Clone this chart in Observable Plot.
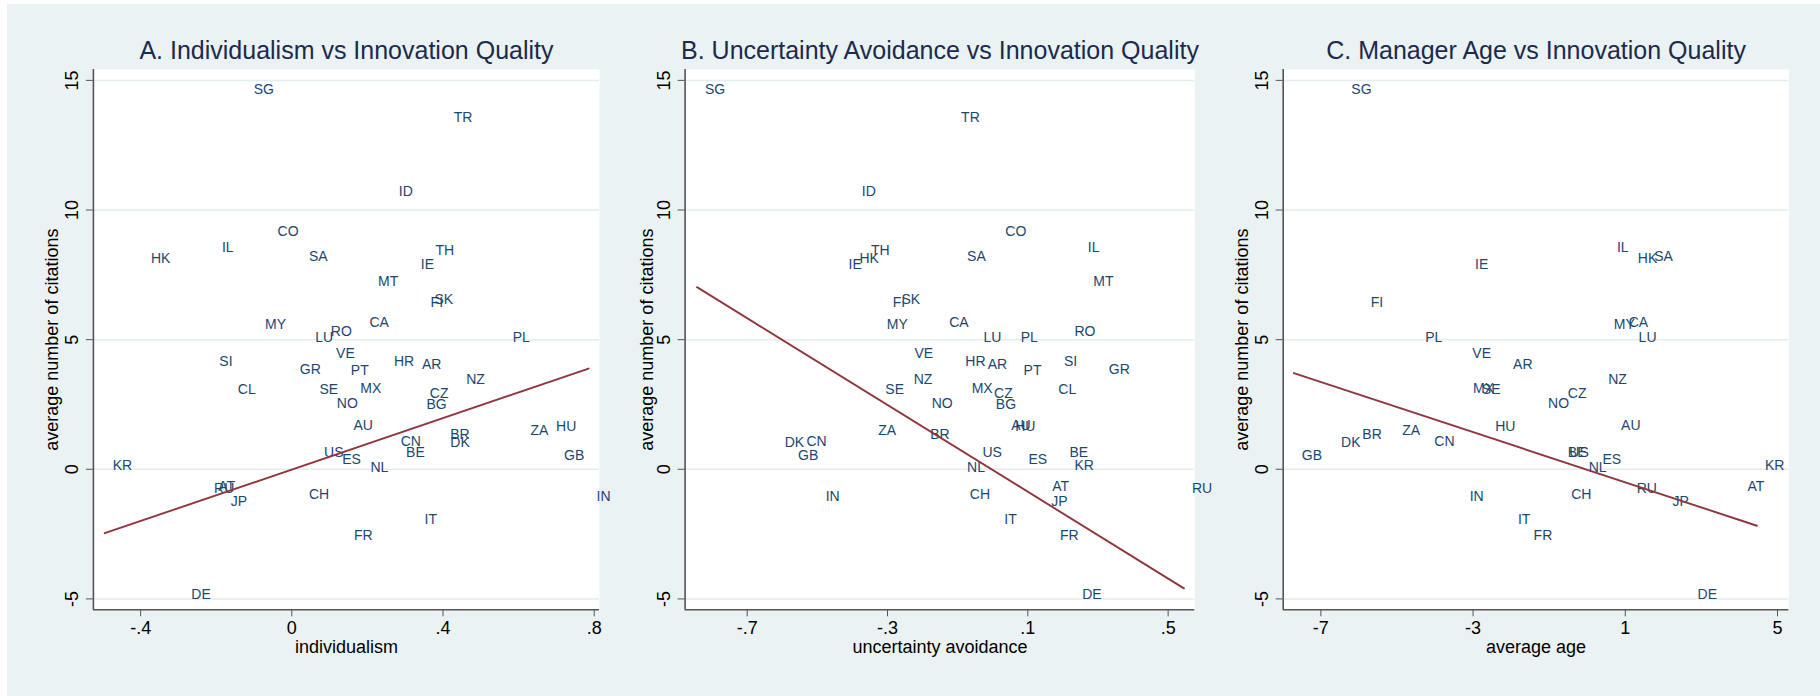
<!DOCTYPE html>
<html>
<head>
<meta charset="utf-8">
<script src="https://cdn.jsdelivr.net/npm/d3@7"></script>
<script src="https://cdn.jsdelivr.net/npm/@observablehq/plot@0.6"></script>
<style>
  html, body { margin: 0; padding: 0; background: #ffffff; }
  #root { position: relative; width: 1820px; height: 696px; overflow: hidden; }
  #bg { position: absolute; left: 7px; top: 4px; right: 0; bottom: 0; background: #eaf2f3; }
  .panel { position: absolute; top: 0; }
  .panel svg { overflow: visible; }
</style>
</head>
<body>
<div id="root"><div id="bg"></div></div>
<script>
// ---- data ----
const countries = ["SG","TR","ID","CO","IL","HK","SA","TH","IE","MT","SK","FI","MY","CA","RO","LU","PL","VE","SI","HR","AR","GR","PT","NZ","CL","SE","MX","CZ","NO","BG","AU","ZA","HU","BR","DK","CN","BE","GB","US","ES","NL","KR","AT","RU","JP","CH","IN","IT","FR","DE"];
const citations = [14.65,13.57,10.72,9.18,8.55,8.12,8.20,8.42,7.89,7.24,6.55,6.45,5.59,5.66,5.32,5.07,5.07,4.46,4.16,4.16,4.04,3.85,3.81,3.45,3.07,3.07,3.10,2.93,2.54,2.50,1.67,1.49,1.65,1.34,1.02,1.08,0.63,0.53,0.63,0.36,0.08,0.14,-0.66,-0.73,-1.25,-0.98,-1.04,-1.94,-2.56,-4.84];
const individualism = [-0.122,0.407,0.262,-0.059,-0.206,-0.394,0.024,0.359,0.320,0.207,0.356,0.346,-0.092,0.184,0.082,0.041,0.563,0.096,-0.213,0.249,0.323,0.000,0.135,0.440,-0.164,0.052,0.160,0.344,0.098,0.335,0.142,0.610,0.678,0.398,0.398,0.267,0.281,0.699,0.064,0.112,0.187,-0.495,-0.216,-0.227,-0.183,0.024,0.785,0.330,0.143,-0.287];
const uncertaintyAvoidance = [-0.843,-0.113,-0.396,0.013,0.248,-0.403,-0.096,-0.370,-0.434,0.264,-0.283,-0.308,-0.325,-0.147,0.210,-0.049,0.057,-0.246,0.180,-0.101,-0.037,0.308,0.065,-0.248,0.164,-0.329,-0.083,-0.019,-0.197,-0.014,0.030,-0.349,0.041,-0.201,-0.616,-0.554,0.196,-0.578,-0.052,0.079,-0.096,0.210,0.147,0.545,0.144,-0.088,-0.499,0.010,0.169,0.232];
const managerAge = [-6.41,null,null,null,0.57,1.12,1.55,null,-3.16,null,null,-5.90,0.49,0.88,null,1.14,-4.47,-3.23,null,null,-2.16,null,null,0.34,null,-2.98,-3.21,-0.72,-1.24,null,0.68,-5.07,-2.63,-6.12,-6.68,-4.23,-0.72,-7.71,-0.68,0.19,-0.17,4.46,4.00,1.09,2.03,-0.63,-3.30,-2.03,-1.62,2.69];

const fitSlopes = [4.96, -8.37, -0.484];
const fitIntercepts = [-0.01, -0.03, -0.02];

const panelTitles = ["A. Individualism vs Innovation Quality", "B. Uncertainty Avoidance vs Innovation Quality", "C. Manager Age vs Innovation Quality"];
const xTitles = ["individualism", "uncertainty avoidance", "average age"];
const yTitle = "average number of citations";

const xTicksA = [-0.4, 0, 0.4, 0.8];
const xTickLabelsA = ["-.4", "0", ".4", ".8"];
const xTicksB = [-0.7, -0.3, 0.1, 0.5];
const xTickLabelsB = ["-.7", "-.3", ".1", ".5"];
const xTicksC = [-7, -3, 1, 5];
const xTickLabelsC = ["-7", "-3", "1", "5"];
const yTicks = [-5, 0, 5, 10, 15];
const yTickLabels = ["-5", "0", "5", "10", "15"];

// ---- styling / layout ----
const W = 1820, H = 696;
const plotTop = 69, plotBottom = 609.3;
const yDomain = [-5.42, 15.42];
const labelColor = "#1a476f";
const lineColor = "#90353b";
const titleColor = "#1c2a4d";
const axisColor = "#555555";
const gridColor = "#e3ecee";
const font = "'Liberation Sans', Arial, Helvetica, sans-serif";

const panels = [
  {xs: individualism, xDomain: [-0.525, 0.814], xTicks: xTicksA, xTickLabels: xTickLabelsA, svgLeft: 0, svgWidth: 610, plotLeft: 92.9, plotRight: 599.0, yTitleDx: -35},
  {xs: uncertaintyAvoidance, xDomain: [-0.877, 0.576], xTicks: xTicksB, xTickLabels: xTickLabelsB, svgLeft: 610, svgWidth: 600, plotLeft: 684.6, plotRight: 1194.3, yTitleDx: -32},
  {xs: managerAge, xDomain: [-7.99, 5.30], xTicks: xTicksC, xTickLabels: xTickLabelsC, svgLeft: 1210, svgWidth: 610, plotLeft: 1282.7, plotRight: 1788.4, yTitleDx: -35}
];

const root = document.getElementById("root");

panels.forEach((p, k) => {
  const rows = countries.map((c, i) => ({country: c, x: p.xs[i], y: citations[i]})).filter(d => d.x != null);
  const xMin = d3.min(rows, d => d.x), xMax = d3.max(rows, d => d.x);
  const fit = [xMin, xMax].map(x => ({x, y: fitIntercepts[k] + fitSlopes[k] * x}));

  const chart = Plot.plot({
    width: p.svgWidth,
    height: H,
    marginTop: plotTop,
    marginBottom: H - plotBottom,
    marginLeft: p.plotLeft - p.svgLeft,
    marginRight: p.svgLeft + p.svgWidth - p.plotRight,
    x: {domain: p.xDomain},
    y: {domain: yDomain},
    style: {background: "transparent", fontFamily: font, overflow: "visible"},
    marks: [
      Plot.frame({fill: "white", stroke: "none"}),
      Plot.gridY(yTicks, {stroke: gridColor, strokeOpacity: 1, strokeWidth: 1.5}),
      Plot.ruleY([yDomain[0]], {stroke: axisColor, strokeWidth: 1.6}),
      Plot.ruleX([p.xDomain[0]], {stroke: axisColor, strokeWidth: 1.6}),
      Plot.axisX(p.xTicks, {tickSize: 7, tickPadding: 4, fontSize: 18, stroke: axisColor, fill: "#000", label: null,
        tickFormat: d => p.xTickLabels[p.xTicks.indexOf(d)]}),
      Plot.axisY(yTicks, {tickSize: 7, stroke: axisColor, label: null, tickFormat: () => ""}),
      Plot.text(yTicks, {frameAnchor: "left", y: d => d, text: d => yTickLabels[yTicks.indexOf(d)], rotate: -90,
        dx: -15.5, textAnchor: "middle", lineAnchor: "bottom", fontSize: 18, fill: "#000"}),
      Plot.text([yTitle], {frameAnchor: "left", text: d => d, rotate: -90, dx: p.yTitleDx,
        textAnchor: "middle", lineAnchor: "bottom", fontSize: 18, fill: "#000"}),
      Plot.text([xTitles[k]], {frameAnchor: "bottom", text: d => d, dy: 43.4, lineAnchor: "bottom", fontSize: 18, fill: "#000"}),
      Plot.text([panelTitles[k]], {frameAnchor: "top", text: d => d, dy: -11, lineAnchor: "bottom", fontSize: 25, fill: titleColor}),
      Plot.text(rows, {x: "x", y: "y", text: "country", dx: 8, textAnchor: "start", lineAnchor: "middle", fontSize: 14, fill: labelColor}),
      Plot.line(fit, {x: "x", y: "y", stroke: lineColor, strokeWidth: 1.9})
    ]
  });
  const div = document.createElement("div");
  div.className = "panel";
  div.style.left = p.svgLeft + "px";
  div.appendChild(chart);
  root.appendChild(div);
});
</script>
</body>
</html>
